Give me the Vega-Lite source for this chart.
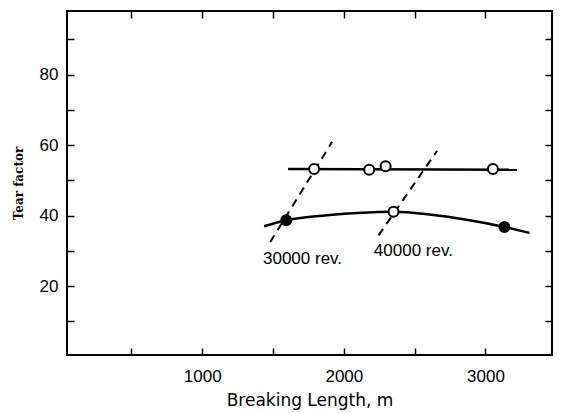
{
  "$schema": "https://vega.github.io/schema/vega-lite/v6.json",
  "width": 485,
  "height": 344,
  "autosize": "none",
  "padding": {"left": 67, "top": 11, "right": 10, "bottom": 58},
  "background": "white",
  "config": {
    "view": {"stroke": "black", "strokeWidth": 2},
    "axis": {"grid": false, "domain": false, "tickColor": "black", "tickWidth": 1.5, "labelColor": "black", "titleColor": "black", "labelFont": "Liberation Sans", "titleFont": "DejaVu Sans"}
  },
  "datasets": {
    "dashed": [
      {"series": "30000", "x": 1480, "y": 32.5},
      {"series": "30000", "x": 1917, "y": 60.9},
      {"series": "40000", "x": 2245, "y": 34.4},
      {"series": "40000", "x": 2659, "y": 58.4}
    ],
    "upper": [
      {"x": 1606, "y": 53.2},
      {"x": 3222, "y": 53.0}
    ],
    "lower": [
      {"x": 1437, "y": 37.0},
      {"x": 1593, "y": 38.7},
      {"x": 1846, "y": 40.0},
      {"x": 2098, "y": 40.75},
      {"x": 2351, "y": 41.1},
      {"x": 2604, "y": 40.3},
      {"x": 2856, "y": 38.9},
      {"x": 3134, "y": 36.8},
      {"x": 3311, "y": 35.1}
    ],
    "points": [
      {"x": 1790, "y": 53.2, "kind": "open"},
      {"x": 2179, "y": 53.0, "kind": "open"},
      {"x": 2295, "y": 54.0, "kind": "open"},
      {"x": 3053, "y": 53.2, "kind": "open"},
      {"x": 1593, "y": 38.7, "kind": "filled"},
      {"x": 2351, "y": 41.1, "kind": "open"},
      {"x": 3134, "y": 36.8, "kind": "filled"}
    ],
    "labels": [
      {"x": 1429, "y": 27.6, "text": "30000 rev."},
      {"x": 2212, "y": 30.0, "text": "40000 rev."}
    ],
    "frame": [
      {"x": 45, "y": 0.5}
    ]
  },
  "layer": [
    {
      "data": {"name": "frame"},
      "mark": {"type": "point", "opacity": 0},
      "encoding": {
        "x": {
          "field": "x", "type": "quantitative",
          "scale": {"domain": [45, 3470], "nice": false, "zero": false},
          "axis": {
            "title": "Breaking Length, m",
            "values": [500, 1000, 1500, 2000, 2500, 3000],
            "labelExpr": "datum.value % 1000 === 0 ? datum.value : ''",
            "tickSize": -7, "labelPadding": 20, "labelFontSize": 17, "titleFontSize": 17, "titleFontWeight": "normal", "titlePadding": 8, "labelFlush": false
          }
        },
        "y": {
          "field": "y", "type": "quantitative",
          "scale": {"domain": [0.5, 98], "nice": false, "zero": false},
          "axis": {
            "title": "Tear factor",
            "values": [10, 20, 30, 40, 50, 60, 70, 80, 90],
            "labelExpr": "datum.value % 20 === 0 ? datum.value : ''",
            "tickSize": -7, "labelPadding": 16, "labelFontSize": 17, "titleFontSize": 12, "titleFont": "DejaVu Serif", "titleFontWeight": "bold", "titlePadding": 14
          }
        }
      }
    },
    {
      "data": {"name": "frame"},
      "mark": {"type": "point", "opacity": 0},
      "encoding": {
        "x": {"field": "x", "type": "quantitative", "axis": {"orient": "top", "title": null, "labels": false, "values": [500, 1000, 1500, 2000, 2500, 3000], "tickSize": -7}},
        "y": {"field": "y", "type": "quantitative", "axis": {"orient": "right", "title": null, "labels": false, "values": [10, 20, 30, 40, 50, 60, 70, 80, 90], "tickSize": -7}}
      }
    },
    {
      "data": {"name": "dashed"},
      "mark": {"type": "line", "color": "black", "strokeWidth": 2, "strokeDash": [8, 6]},
      "encoding": {
        "x": {"field": "x", "type": "quantitative", "axis": null},
        "y": {"field": "y", "type": "quantitative", "axis": null},
        "detail": {"field": "series"}
      }
    },
    {
      "data": {"name": "upper"},
      "mark": {"type": "line", "color": "black", "strokeWidth": 2.5},
      "encoding": {
        "x": {"field": "x", "type": "quantitative", "axis": null},
        "y": {"field": "y", "type": "quantitative", "axis": null}
      }
    },
    {
      "data": {"name": "lower"},
      "mark": {"type": "line", "color": "black", "strokeWidth": 2.5, "interpolate": "monotone"},
      "encoding": {
        "x": {"field": "x", "type": "quantitative", "axis": null},
        "y": {"field": "y", "type": "quantitative", "axis": null}
      }
    },
    {
      "data": {"name": "points"},
      "mark": {"type": "point", "shape": "circle", "size": 100, "strokeWidth": 2, "stroke": "black", "filled": true, "opacity": 1},
      "encoding": {
        "x": {"field": "x", "type": "quantitative", "axis": null},
        "y": {"field": "y", "type": "quantitative", "axis": null},
        "fill": {"field": "kind", "type": "nominal", "scale": {"domain": ["open", "filled"], "range": ["white", "black"]}, "legend": null}
      }
    },
    {
      "data": {"name": "labels"},
      "mark": {"type": "text", "align": "left", "baseline": "middle", "fontSize": 17, "font": "Liberation Sans", "color": "black"},
      "encoding": {
        "x": {"field": "x", "type": "quantitative", "axis": null},
        "y": {"field": "y", "type": "quantitative", "axis": null},
        "text": {"field": "text"}
      }
    }
  ],
  "resolve": {"axis": {"x": "independent", "y": "independent"}}
}
